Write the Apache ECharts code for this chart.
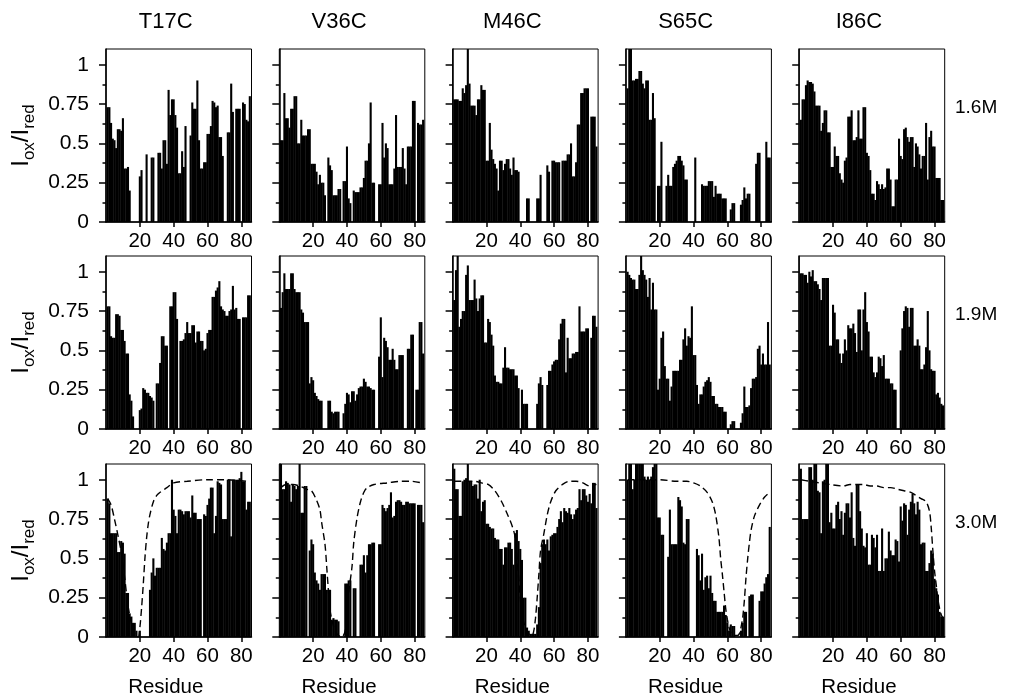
<!DOCTYPE html>
<html><head><meta charset="utf-8">
<script src="https://cdn.jsdelivr.net/npm/echarts@6/dist/echarts.min.js"></script>
<style>html,body{margin:0;padding:0;background:#fff}#c{width:1011px;height:698px}</style>
</head><body><div id="c"></div>
<script>
const proteins = ['T17C','V36C','M46C','S65C','I86C'];
const conditions = ['1.6M','1.9M','3.0M'];
const yTicks = [0,0.25,0.5,0.75,1];
const yMinorTicks = [0.125,0.375,0.625,0.875];
const xTicks = [20,40,60,80];

// residues 1..85, Iox/Ired
const t17c_16 = [.73,.73,.63,.53,.52,.47,.59,.59,.58,.66, .34,.34,.35,.2,0,0,0,0,0,.29, .33,0,0,.43,0,0,.41,.41,0,0, .44,.44,.34,.52,.52,.37,.84,.68,.78,.78, .68,.6,.31,.31,.45,.35,.61,0,0,.55, .76,.72,.72,.9,.52,.34,.34,.38,.38,.56, .56,.61,.77,.76,.73,.74,.54,.54,.42,0, 0,.57,.57,.88,.7,0,.72,.72,.72,0, .76,.75,.65,.64,.8];
const v36c_16 = [.52,.52,.82,.66,.66,.6,.72,.72,.8,.8, .5,.5,.65,.55,.55,.55,.59,.59,.37,.37, .37,.32,.24,.3,.25,.25,.17,0,.41,.36, .33,.17,.17,.17,.21,.21,0,.26,.26,.48, .15,.12,0,.2,.19,.19,.19,.22,.22,.28, .39,.39,.5,.76,.25,.25,0,0,.24,.24, .63,.41,.5,.47,.24,.24,.24,.34,.68,.35, .35,.35,.47,.34,.24,.48,.48,.48,.77,.77, 0,.63,.62,.62,.65];
const m46c_16 = [.78,.78,.78,.77,.77,.85,.82,.87,1.15,.88, .74,.74,.74,.68,.78,.78,.87,.84,.84,.39, .39,.63,.46,.4,.37,.34,.2,.39,.39,.33, .37,.4,.4,.34,.3,.41,.33,.33,.32,0, 0,0,0,.15,.15,0,0,0,0,.15, .15,.3,0,0,0,.36,.32,0,.39,.39, .38,.38,.38,0,.39,.39,.39,.43,.43,.5, .29,.29,.38,.62,.62,.82,.82,.85,.85,.85, 0,.67,.67,.67,.48];
const s65c_16 = [.85,1.15,1.15,.9,.9,.91,.91,.96,.96,.88, .85,.9,.9,.65,.65,.82,.66,0,.23,.23, .51,0,0,.23,.3,.23,.23,.35,.37,.39, .42,.42,.39,.36,.27,.27,0,0,0,0, .41,0,0,0,.24,.23,.23,.23,.26,.26, .26,.16,.23,.18,.18,.18,.15,.15,.15,0, 0,.08,.12,.12,0,0,0,.11,.14,.22, .15,.18,.18,0,0,0,.37,.44,.44,0, 0,0,.51,.41,.41];
const i86c_16 = [.65,.78,.78,.87,.9,.89,.89,.88,.83,.74, .74,.74,.58,.63,.71,.71,.57,.57,.35,.35, .48,.42,.42,.31,.27,.25,.39,.41,.67,.67, .71,.52,.52,.54,.71,.53,.53,.73,.73,.44, .42,.33,.18,.18,.14,.26,.24,.21,.24,.21, .22,.34,.34,.27,.1,.1,.27,.27,.53,.42, .4,.59,.6,.54,.51,.54,.54,.35,.5,.48, .43,.34,.42,.42,.63,.27,.54,.58,.48,.48, .28,.28,.28,.14,.14];

const t17c_19 = [.78,.78,.59,.58,.58,.73,.73,.72,.63,.63, .56,.48,.48,.22,.18,.08,0,0,0,.12, .13,.26,.25,.23,.23,.21,.2,.18,0,.29, .29,.42,.59,.59,.53,.53,0,.78,.78,.87, .87,.7,0,.56,.56,.57,.61,.68,.61,.61, .66,.66,.55,.62,.62,.56,.56,.5,.51,.61, .63,.63,.84,.84,.88,.9,.94,.78,.76,.75, .72,.72,.75,.76,.91,.76,.77,.7,.7,0, .71,.71,.71,.85,.85];
const v36c_19 = [.77,.87,.99,.89,.89,.89,.99,.99,.89,.87, .87,.87,.76,.74,.68,.68,.68,.29,.33,.31, .23,.21,.19,.18,.18,0,0,0,.18,.18, .11,.1,.11,.11,.11,0,0,.1,.16,.23, .22,.17,.24,.24,.18,.22,.26,.27,.27,.32, .3,.27,.27,.26,.25,.25,0,0,.46,.71, .33,.58,.56,.52,.44,.44,.51,.44,.38,.38, .47,.47,.47,0,0,.51,.51,.6,.6,0, .25,.25,.68,.68,.48];
const m46c_19 = [.82,1.01,1.12,.65,.7,.75,.75,.98,1.04,.82, .82,.82,.95,.83,.75,.83,.85,.85,.55,.55, .7,.68,.6,.53,.34,.3,.3,.29,.29,.39, .52,.39,.39,.38,.38,.38,.34,.34,.26,0, .25,.16,.16,.16,0,0,0,0,0,.16, .29,.33,.28,0,0,.28,.37,.37,.41,.43, .44,.44,.57,.67,.7,.7,.36,.58,.45,.45, .48,.48,.49,.49,.78,.62,.62,.62,.64,.64, 0,.58,.72,.72,.65];
const s65c_19 = [1.0,.98,.96,.95,.95,.89,.89,.98,1.12,1.01, .98,.95,.84,.96,.76,.93,.76,.76,.25,.32, .58,.62,.4,.32,.32,.18,.27,.37,.37,.37, .37,.44,.44,.57,.64,.53,.59,.58,.78,.47, .47,.28,.16,.22,.22,.27,.3,.31,.33,.3, .21,.21,.16,.16,.14,.14,.14,.11,.11,0, 0,.03,.05,.05,0,0,0,.04,.1,.27, .14,.14,.15,.26,.32,.32,.33,.51,.53,.41, .48,.41,.41,.68,.41];
const i86c_19 = [.99,.99,.98,.98,.93,1.0,.97,1.01,.94,.94, .92,.89,.82,.96,.96,.96,.96,.53,.53,.79, .74,.57,.57,.48,.42,.48,.57,.5,.66,.64, .64,.67,.61,.49,.76,.76,.5,.76,.87,.68, .62,.46,.46,.36,.33,.36,.46,.45,.4,.47, .32,.32,.32,.29,.29,.25,.25,0,0,.5, .64,.75,.78,.77,.65,.77,.77,.53,.53,.57, .53,.38,.38,.41,.52,.75,.5,.38,.37,.37, .22,.23,.2,.16,.15];

const t17c_30 = [.88,.85,.66,.66,.66,.66,.54,.54,.61,.6, .53,.28,.28,.15,.13,.09,.09,.04,0,.04, 0,0,0,0,0,.3,.41,.5,.39,.44, .44,.44,.63,.56,.55,.6,.66,.66,1.0,.81, .77,.66,.81,.81,.8,.78,.8,.8,.8,.76, .9,.79,.79,.75,.75,.75,0,.78,.77,.84, .88,.95,.95,.66,.77,.99,.98,.97,.75,.75, .75,1.0,1.0,.64,1.0,1.0,1.0,1.0,1.01,1.05, .99,.99,.81,.86,.86];
const v36c_30 = [1.2,.94,.94,.99,.98,.97,.86,.97,.96,.94, .96,1.2,.79,.79,.96,.96,0,.55,.62,.59, .41,.36,.34,.3,.4,.4,.4,.3,.3,.3, .11,.12,.11,.11,.1,0,0,0,.34,.34, .36,.36,0,.31,.31,0,0,.46,.46,.52, .41,.52,.59,.59,.6,.6,0,0,.59,.59, .84,.82,.8,.82,.84,.92,.76,.77,.86,.87, .87,.86,.84,.84,.86,.86,.85,.85,.85,.85, 0,.84,.84,.84,.73];
const m46c_30 = [1.07,.94,.94,.77,.77,.99,1.0,1.01,1.12,.99, .99,.96,.97,.97,.88,1.0,.8,.86,.87,.72, .72,.7,.69,.69,.63,.62,.62,.56,.56,.46, .57,.57,.6,.6,.56,.46,.66,.68,.61,.56, .49,.25,.25,.06,.04,.02,.02,.02,.02,.08, .19,.47,.59,.62,.59,.62,.55,.64,.65,.66, .66,.7,.75,.8,.73,.82,.8,.79,.82,.78, .75,.78,.81,.82,.94,.87,.94,.94,.9,.86, .91,.85,.98,.98,.82];
const s65c_30 = [1.0,1.15,1.15,.94,1.0,1.15,1.15,1.15,1.15,1.15, 1.02,1.0,1.02,1.0,1.02,1.08,1.15,1.15,.76,.76, .65,.65,0,0,.51,.81,.59,.59,.59,.59, .89,.87,.83,.6,.59,.75,.75,0,0,0, 0,.56,.52,.36,.53,.3,.38,.39,.31,.39, .28,.23,.23,.16,.16,.16,.16,.2,.14,.09, .04,.08,.07,.07,0,0,0,.04,.09,.16, .16,0,.26,.27,.27,0,0,0,.23,.29, .29,.34,.38,.4,.7];
const i86c_30 = [1.07,.75,.75,.75,.75,1.08,1.08,1.0,1.12,1.12, .93,.92,.66,.99,1.0,1.12,1.12,.73,.79,.69, .69,.84,.86,.75,.8,.65,.79,.85,.85,.76, .92,.63,.58,.97,.97,.8,.69,.58,.57,.66, .46,.46,.65,.63,.57,.65,.42,.42,.69,.42, .5,.5,.67,.55,.52,.52,.62,.61,.48,.83, .74,.85,.84,.65,.81,.86,.91,.85,.78,.86, .81,.59,.6,.6,.42,.42,.47,.55,.53,.37, .31,.27,.16,.13,.13];

// dashed curves (3.0M), [residue, value]
const fit_t17c = [[1,.88],[3,.84],[5,.75],[7,.65],[9,.54],[11,.38],[13,.2],[15,.09],[17,.02],[18,0],[19,0],[20,.06],[21,.18],[22,.33],[23,.5],[24,.63],[25,.72],[26,.78],[28,.86],[30,.9],[32,.92],[36,.95],[40,.98],[48,.99],[60,1.0],[70,1.0],[84,.99]];
const fit_v36c = [[1,.95],[4,.97],[8,.97],[12,.96],[16,.94],[19,.93],[22,.87],[24,.81],[25,.73],[27,.59],[28,.45],[29,.3],[30,.17],[32,.07],[34,.02],[37,0],[39,.04],[40,.14],[41,.28],[43,.45],[44,.6],[46,.76],[48,.86],[50,.92],[52,.95],[56,.97],[64,.98],[72,.99],[78,.99],[84,.98]];
const fit_m46c = [[1,.99],[5,.99],[9,.99],[13,.99],[17,.98],[21,.97],[25,.93],[29,.86],[32,.79],[34,.74],[36,.68],[37,.63],[38,.52],[39,.38],[40,.25],[41,.14],[43,.06],[45,.02],[47,.01],[48,.04],[49,.12],[50,.25],[51,.4],[52,.55],[54,.66],[56,.78],[58,.86],[61,.93],[65,.97],[69,.99],[73,.99],[77,.98],[81,.96],[85,.97]];
const fit_s65c = [[1,1.0],[10,1.0],[20,1.0],[30,.99],[36,.99],[40,.98],[44,.96],[48,.92],[51,.86],[53,.78],[55,.63],[56,.5],[57,.4],[58,.29],[59,.18],[60,.11],[61,.06],[62,.03],[64,.01],[66,.01],[67,.02],[68,.06],[69,.12],[70,.23],[71,.38],[72,.5],[73,.6],[74,.68],[76,.77],[79,.84],[82,.89],[85,.92]];
const fit_i86c = [[1,1.0],[6,.99],[12,.98],[18,.97],[26,.96],[30,.97],[34,.97],[38,.97],[42,.96],[46,.96],[50,.95],[54,.95],[58,.94],[62,.93],[66,.92],[69,.9],[72,.88],[75,.86],[77,.8],[78,.7],[79,.55],[80,.42],[81,.33],[82,.24],[83,.18],[84,.14],[85,.12]];

const panelData = [
  [t17c_16, v36c_16, m46c_16, s65c_16, i86c_16],
  [t17c_19, v36c_19, m46c_19, s65c_19, i86c_19],
  [t17c_30, v36c_30, m46c_30, s65c_30, i86c_30]
];
const fitData = [fit_t17c, fit_v36c, fit_m46c, fit_s65c, fit_i86c];

const FONT = '"Liberation Sans", Arial, sans-serif';
const colLeft = c => 106 + c * 173.3;
const rowTop = [49, 256, 464];
const W = 145.5, H = 173;

const grids = [], xAxes = [], yAxes = [], series = [], graphics = [];
for (let r = 0; r < 3; r++) {
  for (let c = 0; c < 5; c++) {
    const k = r * 5 + c;
    grids.push({left: colLeft(c), top: rowTop[r], width: W, height: H, show: true,
      borderColor: '#000', borderWidth: 1, backgroundColor: 'transparent'});
    xAxes.push({type: 'value', gridIndex: k, min: 0, max: 86, interval: 20, position: 'bottom',
      axisLine: {show: true, onZero: false, lineStyle: {color: '#000', width: 1.5}},
      axisTick: {show: true, inside: false, length: 5, customValues: xTicks, lineStyle: {color: '#000', width: 1.5}},
      axisLabel: {show: true, customValues: xTicks, margin: 9, color: '#000', fontSize: 20.5, fontFamily: FONT},
      splitLine: {show: false}});
    yAxes.push({type: 'value', gridIndex: k, min: 0, max: 1.1, position: 'left',
      axisLine: {show: true, onZero: false, lineStyle: {color: '#000', width: 1.5}},
      axisTick: {show: true, inside: false, length: 7, customValues: yTicks, lineStyle: {color: '#000', width: 1.5}},
      axisLabel: {show: c === 0, customValues: yTicks, margin: 17, color: '#000', fontSize: 21, fontFamily: FONT},
      splitLine: {show: false},
      name: c === 0 ? '{a|I}{b|ox}{a|/I}{b|red}' : '', nameLocation: 'middle', nameRotate: 90, nameGap: 68,
      nameTextStyle: {color: '#000', fontFamily: FONT, rich: {
        a: {fontSize: 24, fontFamily: FONT, color: '#000', lineHeight: 34},
        b: {fontSize: 17, fontFamily: FONT, color: '#000', lineHeight: 17, verticalAlign: 'bottom'}
      }}});
    yAxes.push({type: 'value', gridIndex: k, min: 0, max: 1.1, position: 'left',
      axisLine: {show: false},
      axisTick: {show: true, inside: false, length: 3.5, customValues: yMinorTicks, lineStyle: {color: '#000', width: 1.5}},
      axisLabel: {show: false}, splitLine: {show: false}});
    series.push({type: 'bar', xAxisIndex: k, yAxisIndex: 2 * k,
      data: panelData[r][c].map((v, i) => [i + 1, v]),
      barWidth: 2.1, itemStyle: {color: '#000'}, clip: true, silent: true});
    if (r === 2) {
      series.push({type: 'line', xAxisIndex: k, yAxisIndex: 2 * k, data: fitData[c],
        smooth: 0.3, symbol: 'none', clip: true, silent: true, z: 5,
        lineStyle: {color: '#000', width: 1.4, type: [7, 4]}});
    }
  }
}
for (let c = 0; c < 5; c++) {
  graphics.push({type: 'text', style: {x: colLeft(c) + W / 2 - 13, y: 22, text: proteins[c],
    fontSize: 22, fontFamily: FONT, fill: '#000', align: 'center', verticalAlign: 'middle'}});
  graphics.push({type: 'text', style: {x: colLeft(c) + W / 2 - 13, y: 687, text: 'Residue',
    fontSize: 20.5, fontFamily: FONT, fill: '#000', align: 'center', verticalAlign: 'middle'}});
}
for (let r = 0; r < 3; r++) {
  graphics.push({type: 'text', style: {x: 955, y: rowTop[r] + 59, text: conditions[r],
    fontSize: 19, fontFamily: FONT, fill: '#000', align: 'left', verticalAlign: 'middle'}});
}

const chart = echarts.init(document.getElementById('c'), null, {renderer: 'canvas'});
chart.setOption({animation: false, backgroundColor: '#fff', grid: grids, xAxis: xAxes, yAxis: yAxes, series: series, graphic: graphics});
</script></body></html>
